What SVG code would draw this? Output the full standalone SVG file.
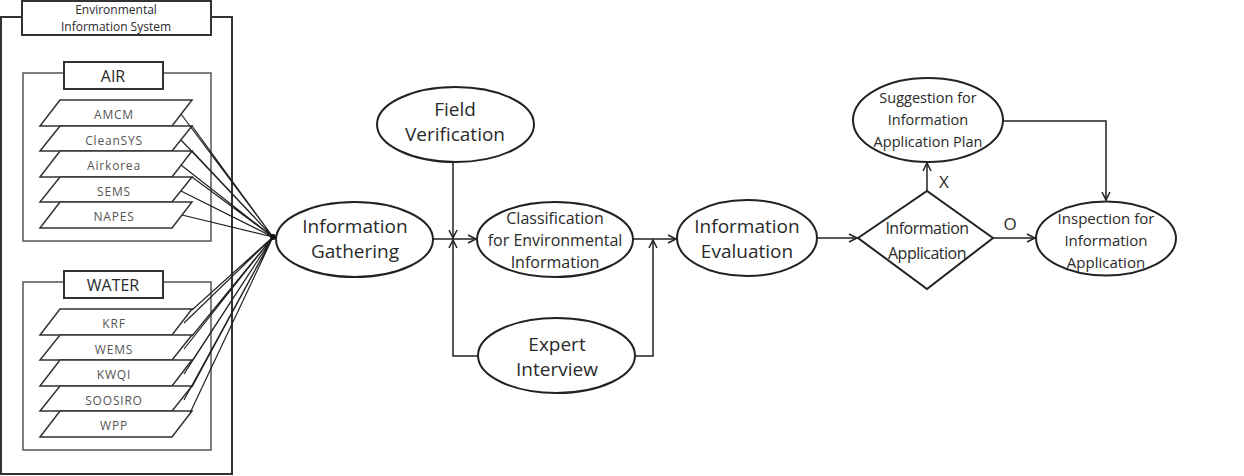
<svg xmlns="http://www.w3.org/2000/svg" width="1244" height="476" viewBox="0 0 1244 476">
<defs>
<style>
.ln{fill:none;stroke:#222;stroke-width:1.5}
.bx{fill:#fff;stroke:#333;stroke-width:2}
.gb{fill:#fff;stroke:#555;stroke-width:1.5}
.el{fill:#fff;stroke:#222;stroke-width:2}
.pg{fill:#fff;stroke:#333;stroke-width:1.5}
.t{font-family:"Open Sans","Noto Sans",sans-serif;fill:#2a2a2a;text-anchor:middle;dominant-baseline:central}
.s{font-family:"Open Sans","Noto Sans",sans-serif;fill:#555;text-anchor:middle;dominant-baseline:central;font-size:12px;letter-spacing:0.8px}
.cv{fill:none;stroke:#222;stroke-width:1.2}
</style>
<marker id="ar" markerUnits="userSpaceOnUse" markerWidth="12" markerHeight="12" refX="9" refY="5" orient="auto">
<path d="M1,1 L9,5 L1,9" fill="none" stroke="#222" stroke-width="1.5"/>
</marker>
</defs>

<g id="eis">
<rect x="1" y="17" width="231" height="457" class="bx"/>
<rect x="22" y="1" width="189" height="34" class="bx"/>
<text class="t" x="116" y="9.5" font-size="12">Environmental</text>
<text class="t" x="116" y="26" font-size="12">Information System</text>
</g>

<g id="air">
<rect x="23" y="73" width="188" height="168" class="gb"/>
<rect x="64" y="62" width="99" height="27" class="bx"/>
<text class="t" x="113" y="76" font-size="16">AIR</text>
<polygon class="pg" points="60,100 192,100 172,126 40,126"/>
<text class="s" x="114" y="114">AMCM</text>
<polygon class="pg" points="60,126 192,126 172,151 40,151"/>
<text class="s" x="114" y="140">CleanSYS</text>
<polygon class="pg" points="60,151 192,151 172,177 40,177"/>
<text class="s" x="114" y="165">Airkorea</text>
<polygon class="pg" points="60,177 192,177 172,202 40,202"/>
<text class="s" x="114" y="191">SEMS</text>
<polygon class="pg" points="60,202 192,202 172,228 40,228"/>
<text class="s" x="114" y="216">NAPES</text>
</g>

<g id="water">
<rect x="23" y="282" width="188" height="168" class="gb"/>
<rect x="64" y="271" width="99" height="27" class="bx"/>
<text class="t" x="113" y="285" font-size="16">WATER</text>
<polygon class="pg" points="60,309 192,309 172,335 40,335"/>
<text class="s" x="114" y="323">KRF</text>
<polygon class="pg" points="60,335 192,335 172,360 40,360"/>
<text class="s" x="114" y="349">WEMS</text>
<polygon class="pg" points="60,360 192,360 172,386 40,386"/>
<text class="s" x="114" y="374">KWQI</text>
<polygon class="pg" points="60,386 192,386 172,411 40,411"/>
<text class="s" x="114" y="400" font-size="10.5" letter-spacing="0">SOOSIRO</text>
<polygon class="pg" points="60,411 192,411 172,437 40,437"/>
<text class="s" x="114" y="425" font-size="10.5" letter-spacing="0">WPP</text>
</g>

<g id="connectors">
<path class="cv" d="M181,114 L273,237 M192,126 L273,237 M181,140 L273,237 M192,151 L273,237 M181,165 L273,237 M192,177 L273,237 M181,191 L273,237 M182,215 L273,237"/>
<path class="cv" d="M192,310 L273,237 M184,323 L273,237 M192,336 L273,237 M184,349 L273,237 M192,361 L273,237 M184,374 L273,237 M192,387 L273,237 M184,400 L273,237 M190,413 L273,237"/>
<circle cx="273" cy="237" r="3" fill="#111"/>
<line class="ln" x1="433" y1="239" x2="476" y2="239" marker-end="url(#ar)"/>
<line class="ln" x1="453" y1="162" x2="453" y2="238" marker-end="url(#ar)"/>
<polyline class="ln" points="478,356 453,356 453,240" marker-end="url(#ar)"/>
<line class="ln" x1="633" y1="239" x2="676" y2="239" marker-end="url(#ar)"/>
<polyline class="ln" points="635,356 653,356 653,240" marker-end="url(#ar)"/>
<line class="ln" x1="817" y1="238" x2="857" y2="238" marker-end="url(#ar)"/>
<line class="ln" x1="927" y1="191" x2="927" y2="163" marker-end="url(#ar)"/>
<line class="ln" x1="993" y1="238" x2="1035" y2="238" marker-end="url(#ar)"/>
<polyline class="ln" points="1003,121 1106,121 1106,200" marker-end="url(#ar)"/>
<text class="t" x="944" y="181" font-size="17">X</text>
<text class="t" x="1010" y="223" font-size="17">O</text>
</g>

<g id="gathering">
<ellipse class="el" cx="354.5" cy="239.5" rx="78.5" ry="37.5"/>
<text class="t" x="355" y="226" font-size="19">Information</text>
<text class="t" x="355" y="251" font-size="19">Gathering</text>
</g>

<g id="field">
<ellipse class="el" cx="455.5" cy="124.5" rx="78.5" ry="37.5"/>
<text class="t" x="455" y="109" font-size="19">Field</text>
<text class="t" x="455" y="134" font-size="19">Verification</text>
</g>

<g id="classification">
<ellipse class="el" cx="555" cy="239.5" rx="78" ry="37.5"/>
<text class="t" x="555" y="218" font-size="16">Classification</text>
<text class="t" x="555" y="240" font-size="16">for Environmental</text>
<text class="t" x="555" y="262" font-size="16">Information</text>
</g>

<g id="expert">
<ellipse class="el" cx="556.5" cy="355.5" rx="78.5" ry="37.5"/>
<text class="t" x="557" y="344" font-size="19">Expert</text>
<text class="t" x="557" y="369" font-size="19">Interview</text>
</g>

<g id="evaluation">
<ellipse class="el" cx="747" cy="238" rx="70" ry="38"/>
<text class="t" x="747" y="226" font-size="19">Information</text>
<text class="t" x="747" y="251" font-size="19">Evaluation</text>
</g>

<g id="application">
<polygon class="el" points="858,238 927,191 993,238 927,289"/>
<text class="t" x="927" y="228" font-size="16" letter-spacing="-0.5">Information</text>
<text class="t" x="927" y="253" font-size="16" letter-spacing="-0.5">Application</text>
</g>

<g id="suggestion">
<ellipse class="el" cx="928" cy="120" rx="75" ry="42"/>
<text class="t" x="928" y="97" font-size="14.5">Suggestion for</text>
<text class="t" x="928" y="119" font-size="14.5">Information</text>
<text class="t" x="928" y="141" font-size="14.5">Application Plan</text>
</g>

<g id="inspection">
<ellipse class="el" cx="1106" cy="238.5" rx="70" ry="37"/>
<text class="t" x="1106" y="218" font-size="15">Inspection for</text>
<text class="t" x="1106" y="240" font-size="15">Information</text>
<text class="t" x="1106" y="262" font-size="15">Application</text>
</g>
</svg>
